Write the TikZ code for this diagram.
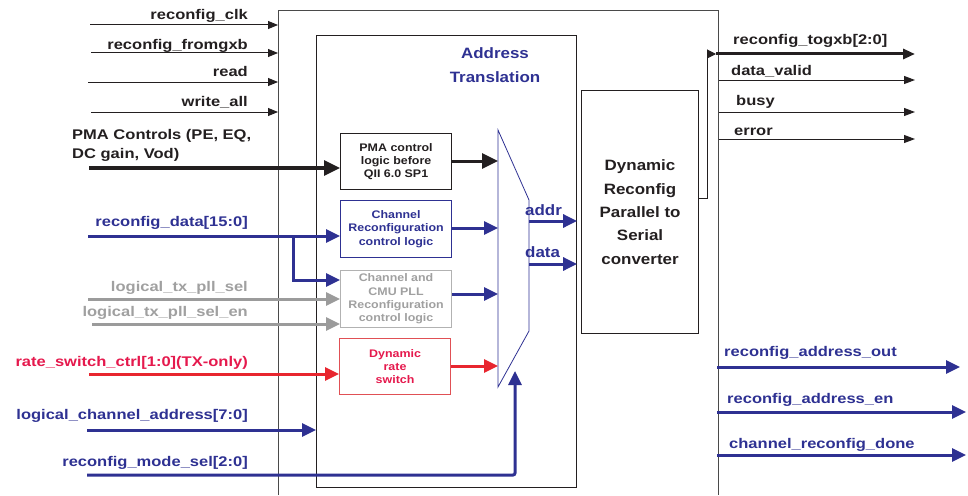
\documentclass[tikz,border=0pt]{standalone}
\usepackage{fontspec}
\setmainfont{Liberation Sans}[FakeStretch=1.13]
\newfontfamily\sigfont{Liberation Sans}[FakeStretch=1.18]
\usetikzlibrary{arrows.meta}
\definecolor{ink}{HTML}{231F20}
\definecolor{frame}{HTML}{4A4A4A}
\definecolor{ablue}{HTML}{2E3192}
\definecolor{ared}{HTML}{E8262F}
\definecolor{aredtxt}{HTML}{E5194D}
\definecolor{aredbox}{HTML}{E05055}
\definecolor{agray}{HTML}{9B9B9B}
\definecolor{agraytxt}{HTML}{A0A0A0}
\definecolor{agraybox}{HTML}{B2B2B2}
\begin{document}
\begin{tikzpicture}[x=1pt,y=-1pt,
  sig/.style={font=\sigfont\fontsize{14}{19}\selectfont\bfseries, inner sep=0pt, text=ink},
  big/.style={font=\fontsize{15}{23.3}\selectfont\bfseries, inner sep=0pt, align=center},
  blk/.style={font=\fontsize{11}{13.3}\selectfont\bfseries, align=center, inner sep=0pt,
              minimum width=111pt, line width=1.1pt, anchor=north west},
  wire/.style={draw=ink, line width=1pt, -{Triangle[length=10pt,width=8pt]}},
  bus/.style={line width=3pt, -{Triangle[length=14pt,width=13pt]}},
  fatbus/.style={line width=3.3pt, -{Triangle[length=16pt,width=15pt]}}]
\useasboundingbox (0,0) rectangle (968,495);

% ---- outer module frame (open at the bottom) and address-translation block
\coordinate (oTL) at (278,11);
\coordinate (oTR) at (718,11);
\draw[frame, line width=1pt] (278,495) -- (oTL) -- (oTR) -- (718,495);
\node[draw=ink, line width=1.1pt, minimum width=260pt, minimum height=452pt,
      anchor=north west, inner sep=0pt] (at) at (316,35) {};
\node[big, text=ablue] (attitle) at (495,65) {Address\\Translation};

% ---- inner logic blocks
\node[blk, draw=ink, text=ink, minimum height=56pt] (pma) at (340,133)
  {PMA control\\logic before\\QII 6.0 SP1};
\node[blk, draw=ablue, text=ablue, minimum height=57pt] (chrc) at (340,200)
  {Channel\\Reconfiguration\\control logic};
\node[blk, draw=agraybox, text=agraytxt, minimum height=57pt] (cmu) at (340,270)
  {Channel and\\CMU PLL\\Reconfiguration\\control logic};
\node[blk, draw=aredbox, text=aredtxt, minimum height=56pt] (drs) at (339,338)
  {Dynamic\\rate\\switch};
\node[big, draw=ink, line width=1.1pt, text=ink, minimum width=117pt, minimum height=243pt,
      anchor=north west] (p2s) at (581,90)
  {Dynamic\\Reconfig\\Parallel to\\Serial\\converter};

% ---- multiplexer
\coordinate (mxA) at (498,130);
\coordinate (mxB) at (529,200);
\coordinate (mxC) at (529,331);
\coordinate (mxD) at (498,387);
\draw[ablue, line width=0.8pt] (mxA) -- (mxB) -- (mxC) -- (mxD) -- cycle;
\coordinate (m1) at (498,161);
\coordinate (m2) at (498,228);
\coordinate (m3) at (498,294);
\coordinate (m4) at (498,366);
\draw[fatbus, draw=ink, line width=3pt] (pma.east |- m1) -- (m1);
\draw[bus, draw=ablue] (chrc.east |- m2) -- (m2);
\draw[bus, draw=ablue] (cmu.east |- m3) -- (m3);
\draw[bus, draw=ared] (drs.east |- m4) -- (m4);

\coordinate (addrS) at (529,221);
\coordinate (dataS) at (529,264);
\draw[bus, draw=ablue] (addrS) -- (addrS -| at.east);
\draw[bus, draw=ablue] (dataS) -- (dataS -| at.east);
\node[big, text=ablue, anchor=base west] (addrl) at (525,215) {addr};
\node[big, text=ablue, anchor=base west] (datal) at (525,257.7) {data};

% ---- control inputs (left)
\coordinate (clkS) at (90,25);
\coordinate (fgS) at (91,53);
\coordinate (rdS) at (88,82);
\coordinate (waS) at (91,112);
\draw[wire] (clkS) -- (clkS -| oTL);
\draw[wire] (fgS) -- (fgS -| oTL);
\draw[wire] (rdS) -- (rdS -| oTL);
\draw[wire] (waS) -- (waS -| oTL);
\node[sig, anchor=base east] (clkl) at (248,19.5) {reconfig\_clk};
\node[sig, anchor=base east] (fgl) at (248,49) {reconfig\_fromgxb};
\node[sig, anchor=base east] (rdl) at (248,76) {read};
\node[sig, anchor=base east] (wal) at (248,106) {write\_all};

\coordinate (pmaS) at (89,168);
\draw[fatbus, draw=ink] (pmaS) -- (pmaS -| pma.west);
\node[sig, align=left, anchor=north west] (pmal) at (72,129.3)
  {PMA Controls (PE, EQ,\\DC gain, Vod)};

\coordinate (dS) at (88,236);
\coordinate (dB) at (293,236);
\coordinate (dK) at (293,280);
\draw[bus, draw=ablue] (dS) -- (dS -| chrc.west);
\draw[bus, draw=ablue] (dB) -- (dK) -- (dK -| cmu.west);
\node[sig, text=ablue, anchor=base east] (dl) at (248,226) {reconfig\_data[15:0]};

\coordinate (txS) at (88,299);
\coordinate (txeS) at (92,324);
\draw[bus, draw=agray] (txS) -- (txS -| cmu.west);
\draw[bus, draw=agray] (txeS) -- (txeS -| cmu.west);
\node[sig, text=agraytxt, anchor=base east] (txl) at (248,291.7) {logical\_tx\_pll\_sel};
\node[sig, text=agraytxt, anchor=base east] (txel) at (248,316.7) {logical\_tx\_pll\_sel\_en};

\coordinate (rsS) at (89,374);
\draw[bus, draw=ared] (rsS) -- (rsS -| drs.west);
\node[sig, text=aredtxt, anchor=base east] (rsl) at (248,366.7) {rate\_switch\_ctrl[1:0](TX-only)};

\coordinate (lcS) at (87,430);
\draw[bus, draw=ablue] (lcS) -- (lcS -| at.west);
\node[sig, text=ablue, anchor=base east] (lcl) at (248,419) {logical\_channel\_address[7:0]};

\coordinate (msS) at (87,475);
\coordinate (msT) at (515,371);
\draw[bus, draw=ablue, rounded corners=2pt] (msS) -| (msT);
\node[sig, text=ablue, anchor=base east] (msl) at (248,466.7) {reconfig\_mode\_sel[2:0]};

% ---- outputs (right)
\path (p2s.east) ++(0,-13.5) coordinate (tgA);
\coordinate (tgK) at (707,54);
\coordinate (tgB) at (716,54);
\coordinate (tgE) at (915,54);
\draw[ink, line width=1pt, -{Triangle[length=9pt,width=9pt]}] (tgA) -| (tgK) -- (tgB);
\draw[ink, line width=3pt, -{Triangle[length=12pt,width=10pt]}] (tgB) -- (tgE);
\node[sig, anchor=base west] (tgl) at (733,45) {reconfig\_togxb[2:0]};

\coordinate (dvS) at (719,80);
\coordinate (byS) at (719,112);
\coordinate (erS) at (719,139);
\draw[wire, -{Triangle[length=11pt,width=8pt]}] (dvS) -- ++(196,0) coordinate (dvE);
\draw[wire, -{Triangle[length=11pt,width=8pt]}] (byS) -- ++(196,0) coordinate (byE);
\draw[wire, -{Triangle[length=11pt,width=8pt]}] (erS) -- ++(196,0) coordinate (erE);
\node[sig, anchor=base west] (dvl) at (731,75) {data\_valid};
\node[sig, anchor=base west] (byl) at (736,105) {busy};
\node[sig, anchor=base west] (erl) at (734,135) {error};

\coordinate (aoS) at (717,367);
\coordinate (aoE) at (960,367);
\coordinate (aeS) at (717,412);
\coordinate (aeE) at (966,412);
\coordinate (cdS) at (717,455);
\coordinate (cdE) at (966,455);
\draw[bus, draw=ablue] (aoS) -- (aoE);
\draw[bus, draw=ablue] (aeS) -- (aeE);
\draw[bus, draw=ablue] (cdS) -- (cdE);
\node[sig, text=ablue, anchor=base west] (aol) at (724,356.7) {reconfig\_address\_out};
\node[sig, text=ablue, anchor=base west] (ael) at (727,403) {reconfig\_address\_en};
\node[sig, text=ablue, anchor=base west] (cdl) at (729,448) {channel\_reconfig\_done};
\end{tikzpicture}
\end{document}
